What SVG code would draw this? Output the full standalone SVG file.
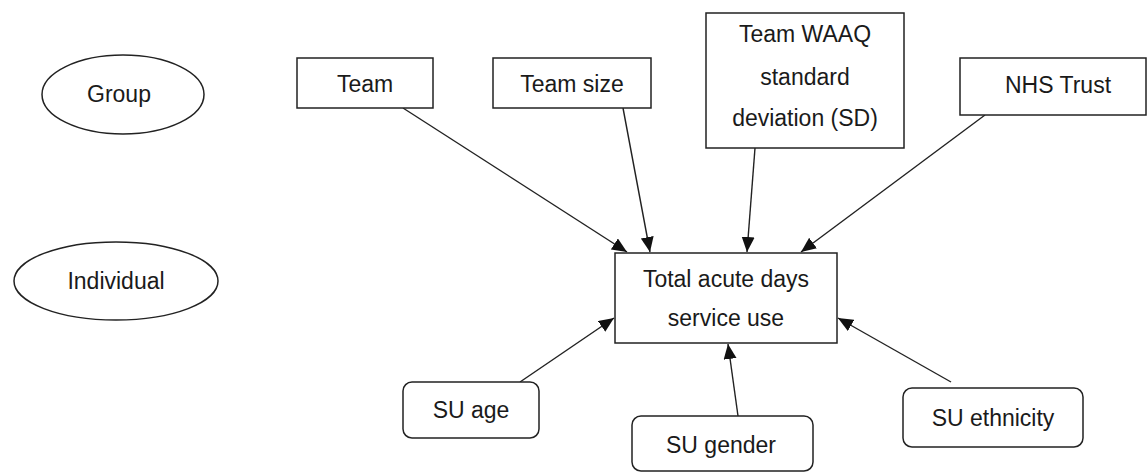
<svg xmlns="http://www.w3.org/2000/svg" width="1147" height="473" viewBox="0 0 1147 473">
<style>
.box{fill:#fff;stroke:#222;stroke-width:1.5}
.lbl{font-family:"Liberation Sans",Arial,sans-serif;font-size:23px;fill:#1a1a1a;text-anchor:middle}
.edge{stroke:#222;stroke-width:1.4;fill:none;marker-end:url(#ah)}
</style>
<defs>
<marker id="ah" markerUnits="userSpaceOnUse" markerWidth="16" markerHeight="14" refX="15" refY="6.5" orient="auto">
<path d="M0,0 L15,6.5 L0,13 z" fill="#111"/>
</marker>
</defs>
<rect width="1147" height="473" fill="#fff"/>
<g id="group-level">
<ellipse class="box" cx="123" cy="94.5" rx="81" ry="39.5"/>
<text class="lbl" x="119" y="102">Group</text>
</g>
<g id="individual-level">
<ellipse class="box" cx="116" cy="281" rx="102" ry="39"/>
<text class="lbl" x="116" y="289">Individual</text>
</g>
<g id="connectors">
<line class="edge" x1="403" y1="108" x2="627" y2="252"/>
<line class="edge" x1="623" y1="108" x2="650" y2="252"/>
<line class="edge" x1="755" y1="148" x2="747" y2="252"/>
<line class="edge" x1="985" y1="115" x2="801" y2="252"/>
<line class="edge" x1="520" y1="382" x2="614" y2="318"/>
<line class="edge" x1="738" y1="416" x2="728" y2="344"/>
<line class="edge" x1="951" y1="382" x2="838" y2="318"/>
</g>
<g id="team">
<rect class="box" x="297" y="58" width="136" height="50"/>
<text class="lbl" x="365" y="92">Team</text>
</g>
<g id="team-size">
<rect class="box" x="493" y="58" width="158" height="50"/>
<text class="lbl" x="572" y="92">Team size</text>
</g>
<g id="team-waaq-sd">
<rect class="box" x="706" y="13" width="198" height="135"/>
<text class="lbl" x="805" y="42">Team WAAQ</text>
<text class="lbl" x="805" y="85">standard</text>
<text class="lbl" x="805" y="126">deviation (SD)</text>
</g>
<g id="nhs-trust">
<rect class="box" x="960" y="58" width="186" height="57"/>
<text class="lbl" x="1058" y="93">NHS Trust</text>
</g>
<g id="total-acute-days">
<rect class="box" x="615" y="253" width="222" height="90"/>
<text class="lbl" x="726" y="287">Total acute days</text>
<text class="lbl" x="726" y="326">service use</text>
</g>
<g id="su-age">
<rect class="box" x="403" y="382" width="136" height="56" rx="9"/>
<text class="lbl" x="471" y="418">SU age</text>
</g>
<g id="su-gender">
<rect class="box" x="632" y="416" width="181" height="55" rx="9"/>
<text class="lbl" x="721" y="453">SU gender</text>
</g>
<g id="su-ethnicity">
<rect class="box" x="903" y="388" width="180" height="59" rx="9"/>
<text class="lbl" x="993" y="426">SU ethnicity</text>
</g>
</svg>
